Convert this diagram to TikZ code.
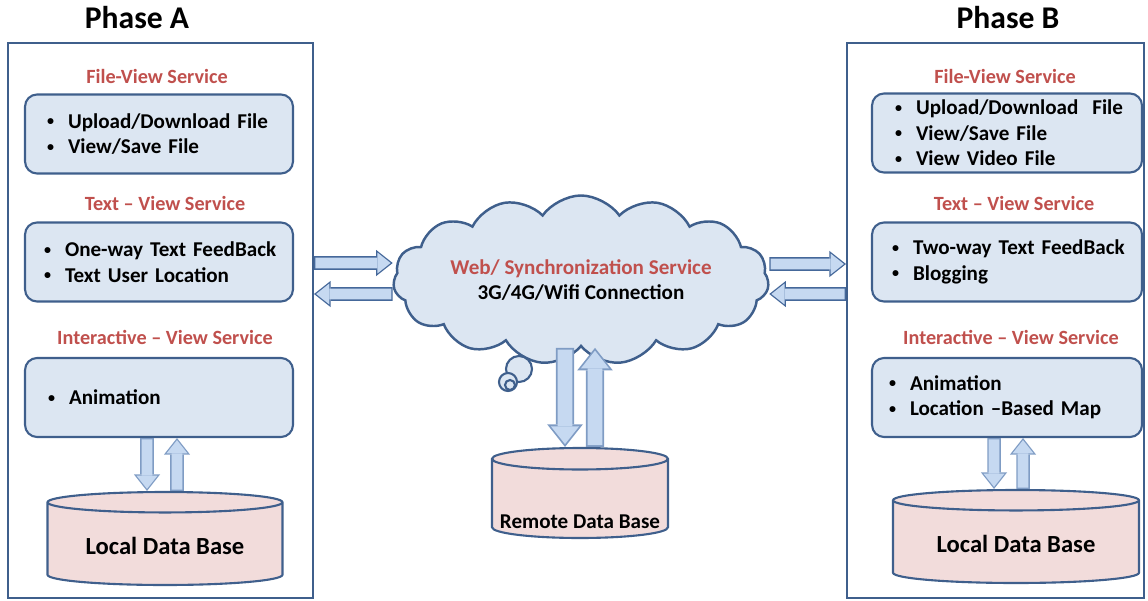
\documentclass[tikz,border=0pt]{standalone}
\usepackage{fontspec}
\setmainfont{Carlito}
\usetikzlibrary{shapes.geometric, shapes.symbols, arrows.meta}

\definecolor{linec}{HTML}{3F5F8C}
\definecolor{boxfill}{HTML}{DCE6F2}
\definecolor{dbfill}{HTML}{F2DCDB}
\definecolor{headred}{HTML}{C0504D}
\definecolor{arrowfill}{HTML}{C6D9F1}
\definecolor{arrowline}{HTML}{45689A}
\definecolor{arrowlight}{HTML}{7F9CC4}

% bullet item inside a service box
\newcommand{\itm}[1]{\mbox{\makebox[0.42cm][l]{\raisebox{0.12em}{\fontsize{8}{8}\selectfont\textbullet}}#1}}
% outlined block arrow: [border colour]{size}{from}{to}
\newcommand{\blockarrow}[4][arrowline]{%
  \draw[line width=#2*7.7pt, draw=#1, -{Triangle[length=9.5pt, width=15pt, line width=0pt, scale=#2]}] (#3) -- (#4);
  \draw[line width=#2*6.2pt, draw=arrowfill, shorten <=#2*0.75pt, shorten >=#2*1.2pt, -{Triangle[length=7.5pt, width=11.9pt, line width=0pt, scale=#2]}] (#3) -- (#4);
}

\begin{document}
\begin{tikzpicture}[x=0.02cm, y=-0.02cm,
        phase/.style = {font=\fontsize{18}{20}\selectfont\bfseries},
        frame/.style = {rectangle, draw=linec, line width=1.2pt, inner sep=0pt, minimum height=11.1cm},
        svchead/.style = {text=headred, font=\fontsize{11.5}{13}\selectfont\bfseries},
        svcbox/.style = {rectangle, rounded corners=0.24cm, draw=linec, fill=boxfill, line width=1.2pt,
                         minimum height=1.58cm, inner ysep=0pt, align=left, font=\fontsize{12}{14.5}\selectfont\bfseries},
        dbase/.style = {cylinder, shape border rotate=90, draw=linec, fill=dbfill, line width=1.2pt,
                        minimum height=1.86cm, anchor=shape center, font=\fontsize{14}{16}\selectfont\bfseries},
        ]
        \useasboundingbox (0,0) rectangle (1148,601);

        % Phase A
        \node[phase] (titleA) at (137,18) {Phase A};
        \node[frame, minimum width=6.1cm] (frameA) at (160.5,320.5) {};
        \node[svchead] (headA1) at (157,76) {File-View Service};
        \node[svcbox, text width=4.48cm, inner xsep=0.44cm] (svcA1) at (159,134) {\itm{Upload/Download File}\\\itm{View/Save File}};
        \node[svchead] (headA2) at (165,203) {Text – View Service};
        \node[svcbox, text width=4.6cm, inner xsep=0.38cm] (svcA2) at (159,262) {\itm{One-way Text FeedBack}\\\itm{Text User Location}};
        \node[svchead] (headA3) at (165,337) {Interactive – View Service};
        \node[svcbox, text width=4.44cm, inner xsep=0.46cm] (svcA3) at (159,397.5) {\itm{Animation}};
        \node[dbase, minimum width=4.7cm, aspect=0.12] (dbA) at (165,538.5) {Local Data Base};

        % Phase B
        \node[phase] (titleB) at (1008,18) {Phase B};
        \node[frame, minimum width=5.94cm] (frameB) at (995.5,320.5) {};
        \node[svchead] (headB1) at (1005,76) {File-View Service};
        \node[svcbox, text width=4.48cm, inner xsep=0.46cm] (svcB1) at (1007,133) {\itm{Upload/Download\ \ File}\\\itm{View/Save File}\\\itm{View Video File}};
        \node[svchead] (headB2) at (1014,203) {Text – View Service};
        \node[svcbox, text width=4.6cm, inner xsep=0.4cm] (svcB2) at (1007,262) {\itm{Two-way Text FeedBack}\\\itm{Blogging}};
        \node[svchead] (headB3) at (1011,337) {Interactive – View Service};
        \node[svcbox, text width=4.72cm, inner xsep=0.34cm] (svcB3) at (1007,397.5) {\itm{Animation}\\\itm{Location –Based Map}};
        \node[dbase, minimum width=4.92cm, aspect=0.12] (dbB) at (1016,536.5) {Local Data Base};

        % Web service in the middle
        \node[cloud, cloud puffs=15, cloud puff arc=110, aspect=2.8, inner sep=0pt, draw=linec, fill=boxfill, line width=1.4pt,
              align=center, font=\fontsize{12}{14.7}\selectfont\bfseries]
              (cloud) at (581,280) {{\color{headred}Web/ Synchronization Service}\\3G/4G/Wifi Connection};
        \draw[linec, line width=1.2pt, fill=boxfill] (519,369) circle [radius=0.26cm];
        \draw[linec, line width=1.2pt, fill=boxfill] (508,382) circle [radius=0.18cm];
        \draw[linec, line width=1.2pt] (510,385) circle [radius=0.1cm];
        \node[dbase, minimum width=3.52cm, minimum height=1.8cm, aspect=0.125, font=\fontsize{12}{14}\selectfont\bfseries]
              (rdb) at (580,493) {\raisebox{-0.56cm}[0pt][0pt]{Remote Data Base}};

        % Arrows between phases and cloud
        \blockarrow{1}{[yshift=1.15cm]frameA.east}{[yshift=0.34cm]cloud.west}
        \blockarrow{1}{[yshift=-0.28cm]cloud.west}{[yshift=0.53cm]frameA.east}
        \blockarrow{1}{[yshift=0.32cm]cloud.east}{[yshift=1.13cm]frameB.west}
        \blockarrow{1}{[yshift=0.53cm]frameB.west}{[yshift=-0.28cm]cloud.east}

        % Arrows to the data bases
        \blockarrow[arrowlight]{1.35}{[xshift=-0.32cm]cloud.south}{[xshift=-0.3cm]rdb.north}
        \blockarrow[arrowlight]{1.35}{[xshift=0.3cm]rdb.north}{[xshift=0.28cm]cloud.south}
        \blockarrow[arrowlight]{1}{[xshift=-0.24cm]svcA3.south}{[xshift=-0.36cm]dbA.north}
        \blockarrow[arrowlight]{1}{[xshift=0.24cm]dbA.north}{[xshift=0.36cm]svcA3.south}
        \blockarrow[arrowlight]{1}{[xshift=-0.26cm]svcB3.south}{[xshift=-0.44cm]dbB.north}
        \blockarrow[arrowlight]{1}{[xshift=0.14cm]dbB.north}{[xshift=0.32cm]svcB3.south}
\end{tikzpicture}
\end{document}
